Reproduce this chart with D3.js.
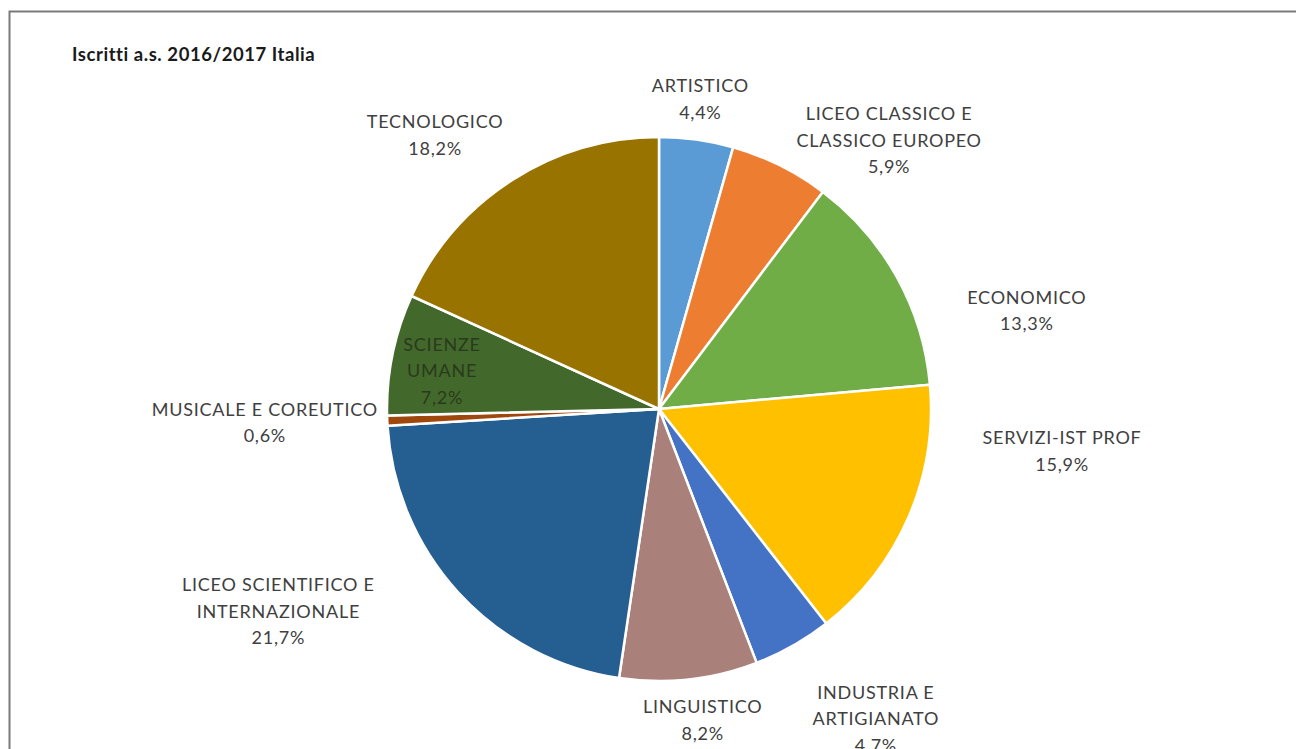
<!DOCTYPE html>
<html><head><meta charset="utf-8">
<script src="https://cdn.jsdelivr.net/npm/d3@7"></script>
<style>
html,body{margin:0;padding:0;background:#fff;}
svg{display:block;}
</style></head>
<body>
<svg id="chart" width="1296" height="749"></svg>
<script>
const title = "Iscritti a.s. 2016/2017 Italia";
const categories = ["ARTISTICO","LICEO CLASSICO E CLASSICO EUROPEO","ECONOMICO","SERVIZI-IST PROF","INDUSTRIA E ARTIGIANATO","LINGUISTICO","LICEO SCIENTIFICO E INTERNAZIONALE","MUSICALE E COREUTICO","SCIENZE UMANE","TECNOLOGICO"];
const labelLines = [["ARTISTICO"],["LICEO CLASSICO E","CLASSICO EUROPEO"],["ECONOMICO"],["SERVIZI-IST PROF"],["INDUSTRIA E","ARTIGIANATO"],["LINGUISTICO"],["LICEO SCIENTIFICO E","INTERNAZIONALE"],["MUSICALE E COREUTICO"],["SCIENZE","UMANE"],["TECNOLOGICO"]];
const values = [4.4,5.9,13.3,15.9,4.7,8.2,21.7,0.6,7.2,18.2];
const colors = ["#5B9BD5","#ED7D31","#70AD47","#FFC000","#4472C4","#A9807A","#255E91","#9E480E","#43682B","#997300"];
// label placement (polar, relative to pie): distance as fraction of radius, angle in degrees clockwise from top
const labelRadius = [1.15,1.30,1.40,1.49,1.39,1.155,1.585,1.45,0.81,1.30];
const labelAngle  = [7.6,40.6,75,96,145,172,242,268,280,320.7];

const svg = d3.select("#chart");
// frame
svg.append("rect").attr("x",9.5).attr("y",11.5).attr("width",1300).attr("height",760)
  .attr("fill","none").attr("stroke","#7a7a7a").attr("stroke-width",2);

svg.append("text").attr("x",72).attr("y",61).text(title)
  .attr("font-family","Lato, 'Open Sans', sans-serif").attr("font-weight","bold")
  .attr("font-size",18.5).attr("letter-spacing",0.55).attr("fill","#1a1a1a");

const cx = 659, cy = 409, R = 272;
const g = svg.append("g").attr("transform",`translate(${cx},${cy})`);
const data = categories.map((c,i)=>({c, v:values[i], i}));
const pie = d3.pie().value(d=>d.v).sort(null);
const arc = d3.arc().innerRadius(0).outerRadius(R);
const arcs = pie(data);
g.selectAll("path").data(arcs).join("path")
  .attr("d",arc).attr("fill",d=>colors[d.data.i])
  .attr("stroke","#fff").attr("stroke-width",2.5).attr("stroke-linejoin","round");

const fmt = v => d3.format(".1f")(v).replace(".",",") + "%";
const lineH = 26.5;
arcs.forEach(a=>{
  const i = a.data.i;
  const ang = labelAngle[i]*Math.PI/180;
  const rr = labelRadius[i]*R;
  const x = Math.sin(ang)*rr, y = -Math.cos(ang)*rr;
  const lines = labelLines[i].concat([fmt(values[i])]);
  const t = g.append("text").attr("text-anchor","middle")
    .attr("font-family","Lato, 'Open Sans', sans-serif").attr("font-size",18)
    .attr("letter-spacing",0.75)
    .attr("fill", i===8 ? "#2a3a1c" : "#404040");
  const y0 = y - (lines.length-1)*lineH/2;
  lines.forEach((l,k)=>{
    t.append("tspan").attr("x",x).attr("y",y0+k*lineH).attr("dy","0.35em").text(l);
  });
});
</script>
</body></html>
